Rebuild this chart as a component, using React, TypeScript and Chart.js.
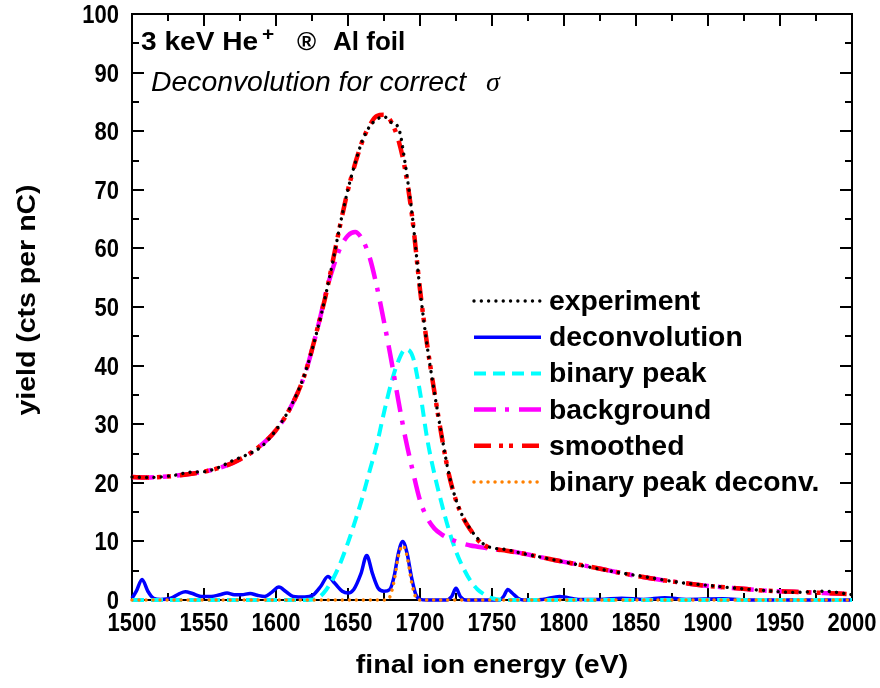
import React, { useEffect, useRef } from 'react';
import { Chart, registerables } from 'chart.js';

Chart.register(...registerables);

// ---------- data ----------
const energyGrid = [
  1500, 1510, 1520, 1530, 1540, 1550, 1560, 1570, 1580, 1590, 1600, 1610, 1620, 1630,
  1635, 1640, 1645, 1650, 1655, 1660, 1665, 1670, 1675, 1680, 1685, 1690, 1695, 1700,
  1705, 1710, 1715, 1720, 1725, 1730, 1735, 1740, 1745, 1750,
  1760, 1770, 1780, 1790, 1800,
  1820, 1840, 1860, 1880, 1900, 1920, 1940, 1960, 1980, 2000,
];

const experiment = [
  21.0, 20.9, 21.0, 21.3, 21.8, 21.9, 22.6, 23.8, 24.8, 26.2, 29.0, 32.9, 38.6, 47.3,
  52.6, 58.4, 64.6, 70.1, 74.6, 78.4, 80.8, 82.0, 82.5, 81.5, 80.6, 74.0, 64.8, 53.0,
  43.3, 35.4, 28.2, 21.6, 17.1, 14.1, 12.1, 10.5, 9.4, 8.9,
  8.6, 8.0, 7.5, 7.0, 6.5,
  5.5, 4.6, 3.8, 3.0, 2.5, 2.0, 1.6, 1.3, 1.5, 0.9,
];

const smoothed = [
  21.0, 20.9, 21.0, 21.2, 21.5, 21.9, 22.5, 23.4, 24.7, 26.5, 29.0, 32.8, 38.5, 47.5,
  52.5, 58.5, 64.5, 70.0, 74.5, 78.3, 81.0, 82.6, 82.8, 81.6, 78.5, 73.0, 64.5, 53.0,
  43.5, 35.5, 28.0, 21.5, 17.0, 14.0, 12.0, 10.3, 9.3, 8.8,
  8.4, 8.0, 7.5, 7.0, 6.5,
  5.6, 4.6, 3.7, 3.0, 2.4, 2.0, 1.6, 1.4, 1.2, 1.0,
];

const background = [
  21.0, 20.9, 21.0, 21.2, 21.5, 21.9, 22.5, 23.4, 24.7, 26.5, 29.0, 32.8, 38.5, 47.5,
  52.8, 57.0, 60.3, 62.2, 62.8, 61.5, 58.5, 53.5, 47.5, 41.0, 34.0, 27.5, 22.0, 17.0,
  14.0, 12.2, 11.2, 10.5, 10.0, 9.6, 9.3, 9.1, 8.9, 8.7,
  8.4, 8.0, 7.5, 7.0, 6.5,
  5.6, 4.6, 3.7, 3.0, 2.4, 2.0, 1.6, 1.4, 1.2, 1.0,
];

const binaryPeak = [
  0, 0, 0, 0, 0, 0, 0, 0, 0, 0, 0, 0, 0, 0.5,
  1.8, 3.8, 6.5, 9.8, 13.5, 17.5, 22.0, 26.5, 32.0, 37.0, 40.8, 42.8, 41.5, 35.5,
  27.5, 21.5, 16.5, 12.0, 8.3, 5.5, 3.3, 1.8, 0.9, 0.3,
  0, 0, 0, 0, 0,
  0, 0, 0, 0, 0, 0, 0, 0, 0, 0,
];

const deconvEnergy = [
  1500, 1503, 1507, 1511, 1515, 1520, 1527, 1533, 1537, 1542, 1548, 1555, 1561, 1566,
  1571, 1576, 1582, 1587, 1592, 1597, 1602, 1607, 1612, 1620, 1626, 1631, 1636, 1641,
  1646, 1650, 1654, 1659, 1663, 1667, 1671, 1675, 1679, 1682, 1685, 1688, 1691, 1694,
  1697, 1700, 1705, 1718, 1722, 1725, 1728, 1732, 1755, 1758, 1761, 1764, 1768, 1772,
  1785, 1797, 1810, 1825, 1840, 1855, 1870, 1885, 1910, 1930, 2000,
];
const deconvYield = [
  0.3, 1.5, 3.5, 1.5, 0.3, 0.1, 0.3, 1.1, 1.4, 1.1, 0.6, 0.6, 0.9, 1.2,
  0.9, 0.9, 1.1, 0.8, 0.6, 1.3, 2.2, 1.4, 0.6, 0.5, 0.9, 2.3, 4.0, 2.8,
  1.5, 1.2, 1.8, 4.5, 7.6, 4.5, 2.0, 1.5, 1.8, 4.0, 8.0, 10.0, 8.0, 4.0,
  1.0, 0.1, 0, 0, 0.6, 2.0, 0.6, 0, 0, 0.6, 1.8, 1.2, 0.3, 0,
  0.1, 0.6, 0.1, 0.1, 0.3, 0.1, 0.4, 0.1, 0.2, 0, 0,
];

const binaryDeconvEnergy = [1500, 1676, 1679, 1682, 1685, 1688, 1691, 1694, 1697, 1700, 2000];
const binaryDeconvYield = [0, 0, 0.5, 3.2, 7.5, 9.3, 7.5, 3.2, 0.5, 0, 0];

const xTickValues = [1500, 1550, 1600, 1650, 1700, 1750, 1800, 1850, 1900, 1950, 2000];
const yTickValues = [0, 10, 20, 30, 40, 50, 60, 70, 80, 90, 100];

const seriesLabels = [
  'experiment',
  'deconvolution',
  'binary peak',
  'background',
  'smoothed',
  'binary peak deconv.',
];

const xTitle = 'final ion energy (eV)';
const yTitle = 'yield (cts per nC)';
const titleMain = '3 keV He';
const titleSup = '+';
const titleArrow = '®';
const titleTarget = 'Al foil';
const subtitle = 'Deconvolution for correct';
const subtitleSymbol = 'σ';

// ---------- helpers ----------
const SANS = '"Liberation Sans", Arial, Helvetica, sans-serif';

function drawText(
  ctx: CanvasRenderingContext2D,
  text: string,
  x: number,
  y: number,
  font: string,
  sx: number,
  align: 'left' | 'center' | 'right' = 'left'
): number {
  ctx.save();
  ctx.font = font;
  ctx.fillStyle = '#000';
  ctx.textBaseline = 'alphabetic';
  ctx.textAlign = 'left';
  const w = ctx.measureText(text).width * sx;
  let x0 = x;
  if (align === 'center') x0 = x - w / 2;
  else if (align === 'right') x0 = x - w;
  ctx.translate(x0, y);
  ctx.scale(sx, 1);
  ctx.fillText(text, 0, 0);
  ctx.restore();
  return w;
}

const framePlugin = {
  id: 'frameAndTicks',
  beforeDatasetsDraw(chart: any) {
    const { ctx, chartArea } = chart;
    const { left, right, top, bottom } = chartArea;
    const xs = chart.scales.x;
    const ys = chart.scales.y;
    ctx.save();
    ctx.strokeStyle = '#000';
    ctx.lineWidth = 2;
    ctx.strokeRect(left, top, right - left, bottom - top);
    const major = 12;
    const minor = 7;
    ctx.beginPath();
    for (let i = 0; i < xTickValues.length; i++) {
      const px = Math.round(xs.getPixelForValue(xTickValues[i]));
      ctx.moveTo(px, bottom);
      ctx.lineTo(px, bottom - major);
      ctx.moveTo(px, top);
      ctx.lineTo(px, top + major);
      if (i < xTickValues.length - 1) {
        const mv = (xTickValues[i] + xTickValues[i + 1]) / 2;
        const mp = Math.round(xs.getPixelForValue(mv));
        ctx.moveTo(mp, bottom);
        ctx.lineTo(mp, bottom - minor);
        ctx.moveTo(mp, top);
        ctx.lineTo(mp, top + minor);
      }
    }
    for (let i = 0; i < yTickValues.length; i++) {
      const py = Math.round(ys.getPixelForValue(yTickValues[i]));
      ctx.moveTo(left, py);
      ctx.lineTo(left + major, py);
      ctx.moveTo(right, py);
      ctx.lineTo(right - major, py);
      if (i < yTickValues.length - 1) {
        const mv = (yTickValues[i] + yTickValues[i + 1]) / 2;
        const mp = Math.round(ys.getPixelForValue(mv));
        ctx.moveTo(left, mp);
        ctx.lineTo(left + minor, mp);
        ctx.moveTo(right, mp);
        ctx.lineTo(right - minor, mp);
      }
    }
    ctx.stroke();
    ctx.restore();
  },
  afterDraw(chart: any) {
    const { ctx } = chart;
    const xs = chart.scales.x;
    const ys = chart.scales.y;
    const tickFont = `bold 25px ${SANS}`;
    for (const v of xTickValues) {
      drawText(ctx, String(v), xs.getPixelForValue(v), 631, tickFont, 0.88, 'center');
    }
    for (const v of yTickValues) {
      drawText(ctx, String(v), 119, ys.getPixelForValue(v) + 9, tickFont, 0.88, 'right');
    }
    // axis titles
    drawText(ctx, xTitle, (chart.chartArea.left + chart.chartArea.right) / 2, 673, `bold 25px ${SANS}`, 1.14, 'center');
    ctx.save();
    ctx.translate(35, 300);
    ctx.rotate(-Math.PI / 2);
    drawText(ctx, yTitle, 0, 0, `bold 25px ${SANS}`, 1.14, 'center');
    ctx.restore();

    // title block
    drawText(ctx, titleMain, 141, 50, `bold 26px ${SANS}`, 1.08);
    drawText(ctx, titleSup, 262, 40, `bold 19px ${SANS}`, 1.1);
    drawText(ctx, titleArrow, 297, 50, `bold 26px ${SANS}`, 1.0);
    drawText(ctx, titleTarget, 333, 50, `bold 26px ${SANS}`, 1.0);
    drawText(ctx, subtitle, 151, 91, `italic 27px ${SANS}`, 1.05);
    drawText(ctx, subtitleSymbol, 486, 91, `italic 28px "Liberation Serif", "DejaVu Serif", serif`, 1.0);

    // legend
    const ds = chart.data.datasets;
    const x0 = 474;
    const x1 = 541;
    for (let i = 0; i < ds.length; i++) {
      const d = ds[i];
      const y = 301 + i * 36.2;
      ctx.save();
      ctx.strokeStyle = d.borderColor;
      ctx.lineWidth = d.borderWidth;
      ctx.lineCap = d.borderCapStyle || 'butt';
      ctx.setLineDash(d.borderDash || []);
      ctx.beginPath();
      ctx.moveTo(x0, y);
      ctx.lineTo(x1, y);
      ctx.stroke();
      ctx.restore();
      drawText(ctx, d.label, 549, y + 9, `bold 27px ${SANS}`, 1.05);
    }
  },
};

function pts(xs: number[], ys: number[]) {
  return xs.map((x, i) => ({ x, y: ys[i] }));
}

export default function App() {
  const ref = useRef<HTMLCanvasElement | null>(null);

  useEffect(() => {
    if (!ref.current) return;
    const common = {
      pointRadius: 0,
      fill: false,
      cubicInterpolationMode: 'monotone' as const,
      clip: 8,
    };
    const chart = new Chart(ref.current, {
      type: 'line',
      data: {
        datasets: [
          {
            ...common,
            label: seriesLabels[0],
            data: pts(energyGrid, experiment),
            borderColor: '#000000',
            borderWidth: 3.4,
            borderDash: [0.01, 7.3],
            borderCapStyle: 'round',
            order: 1,
          },
          {
            ...common,
            label: seriesLabels[1],
            data: pts(deconvEnergy, deconvYield),
            borderColor: '#0000ff',
            borderWidth: 3.5,
            borderDash: [],
            order: 5,
          },
          {
            ...common,
            label: seriesLabels[2],
            data: pts(energyGrid, binaryPeak),
            borderColor: '#00ffff',
            borderWidth: 4,
            borderDash: [12, 7],
            order: 4,
          },
          {
            ...common,
            label: seriesLabels[3],
            data: pts(energyGrid, background),
            borderColor: '#ff00ff',
            borderWidth: 4.5,
            borderDash: [22, 9, 4, 10],
            order: 3,
          },
          {
            ...common,
            label: seriesLabels[4],
            data: pts(energyGrid, smoothed),
            borderColor: '#ff0000',
            borderWidth: 4.5,
            borderDash: [17, 8, 4, 6, 4, 9],
            order: 2,
          },
          {
            ...common,
            label: seriesLabels[5],
            data: pts(binaryDeconvEnergy, binaryDeconvYield),
            borderColor: '#ff8000',
            borderWidth: 3.5,
            borderDash: [0.01, 7],
            borderCapStyle: 'round',
            order: 0,
          },
        ],
      },
      options: {
        responsive: false,
        animation: false,
        devicePixelRatio: 1,
        layout: { padding: { left: 132, right: 28, top: 14, bottom: 88 } },
        scales: {
          x: { type: 'linear', min: 1500, max: 2000, display: false },
          y: { type: 'linear', min: 0, max: 100, display: false },
        },
        plugins: {
          legend: { display: false },
          tooltip: { enabled: false },
        },
      },
      plugins: [framePlugin],
    } as any);
    return () => chart.destroy();
  }, []);

  return (
    <div style={{ position: 'absolute', left: 0, top: 0, width: 880, height: 688, background: '#fff' }}>
      <canvas ref={ref} width={880} height={688} style={{ display: 'block', width: 880, height: 688 }} />
    </div>
  );
}
